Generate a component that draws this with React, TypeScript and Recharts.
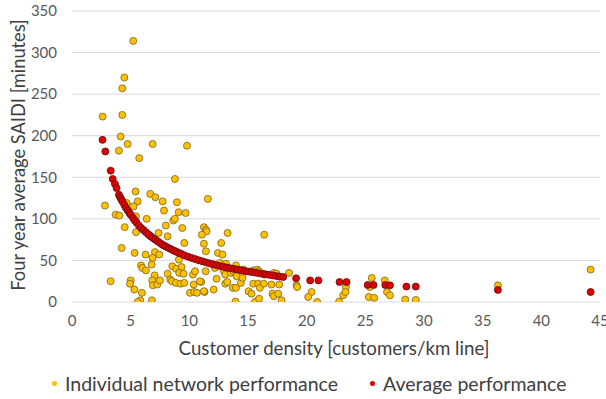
import React from "react";
import {
  ScatterChart,
  Scatter,
  XAxis,
  YAxis,
  CartesianGrid,
  Legend,
} from "recharts";

const seriesNames = ["Individual network performance", "Average performance"];
const xTicks = [0, 5, 10, 15, 20, 25, 30, 35, 40, 45];
const yTicks = [0, 50, 100, 150, 200, 250, 300, 350];
const xTitle = "Customer density [customers/km line]";
const yTitle = "Four year average SAIDI [minutes]";

// Individual network performance: [density, SAIDI]
const individualPoints: [number, number][] = [
  [5.22, 314], [4.46, 270], [4.29, 257], [2.61, 223], [4.29, 225], [4.15, 199],
  [4.74, 190], [4.0, 182], [6.87, 190], [9.8, 188], [5.73, 173], [8.77, 148],
  [2.81, 116], [5.42, 133], [6.67, 130], [7.1, 126], [5.6, 121], [4.66, 119],
  [5.25, 115], [7.72, 121], [8.94, 120], [11.58, 124], [3.72, 105], [4.03, 104],
  [7.84, 110], [9.09, 108], [9.68, 107], [4.49, 90], [6.36, 100], [5.45, 103],
  [8.0, 92], [8.63, 98], [8.77, 100], [9.4, 89], [11.24, 90], [11.41, 87],
  [11.47, 85], [5.45, 84], [6.64, 80], [7.38, 83], [8.15, 79], [11.07, 81],
  [13.26, 83], [16.38, 81], [4.23, 65], [5.34, 59], [6.27, 57], [7.07, 60],
  [7.44, 57], [9.57, 71], [11.24, 70], [11.41, 61], [12.72, 71], [12.44, 59],
  [12.83, 57], [6.87, 53], [9.11, 51], [12.6, 47], [13.12, 46], [13.97, 44],
  [5.88, 44], [5.99, 41], [6.3, 38], [6.79, 45], [8.55, 43], [8.88, 40],
  [9.34, 42], [8.15, 34], [9.14, 35], [9.51, 34], [10.31, 33], [10.48, 37],
  [11.39, 37], [12.18, 41], [12.95, 37], [13.06, 33], [13.54, 35], [13.74, 37],
  [14.6, 39], [15.45, 38], [15.78, 39], [15.95, 37], [16.38, 33], [17.2, 35],
  [17.43, 34], [18.5, 35], [3.29, 25], [5.0, 26], [4.94, 22], [5.31, 15],
  [5.96, 11], [5.82, 2], [5.6, 0], [6.81, 2], [7.04, 32], [6.84, 26],
  [6.9, 20], [7.27, 21], [7.5, 26], [8.37, 27], [8.52, 25], [8.86, 23],
  [9.26, 22], [9.57, 23], [10.05, 11], [10.42, 12], [10.65, 11], [11.3, 12],
  [11.24, 13], [12.07, 15], [11.01, 24], [10.9, 25], [10.37, 21], [12.32, 28],
  [13.06, 22], [13.23, 24], [13.71, 17], [13.97, 17], [13.94, 0.5], [14.03, 31],
  [14.39, 23], [14.54, 29], [15.05, 13], [15.3, 10], [15.45, 22], [15.87, 22],
  [16.01, 17], [16.35, 22], [15.7, 0.5], [15.59, 0], [15.95, 4], [17.0, 21],
  [17.66, 21], [17.09, 10], [17.2, 7], [17.57, 10], [17.86, 2], [19.14, 20],
  [19.19, 18], [20.42, 12], [20.13, 6], [20.9, 0], [23.34, 18], [23.11, 8],
  [23.31, 12], [22.77, 0.5], [25.55, 29], [25.38, 18], [25.3, 6], [25.75, 5],
  [26.66, 26], [26.85, 12], [27.1, 8], [28.4, 3], [29.3, 2.5], [36.3, 20],
  [44.2, 39],
];

// Average performance: [density, SAIDI]
const averagePoints: [number, number][] = [
  [2.6, 195], [2.84, 181], [3.3, 158], [3.47, 148], [3.66, 142], [3.8, 137],
  [4.0, 129], [4.1, 126], [4.2, 123.5], [4.3, 121], [4.45, 117], [4.6, 113],
  [4.75, 110], [4.9, 107], [5.0, 105], [5.2, 101], [5.35, 98], [5.5, 95.5],
  [5.7, 92], [5.9, 89], [6.1, 86.5], [6.3, 84], [6.5, 81.5], [6.7, 79],
  [6.9, 77], [7.1, 75], [7.3, 73], [7.5, 71], [7.7, 69], [7.9, 67.5],
  [8.1, 66], [8.3, 64.5], [8.5, 63], [8.7, 61.7], [8.9, 60.4], [9.1, 59],
  [9.3, 58], [9.6, 56], [9.9, 54.5], [10.2, 53], [10.5, 51.6], [10.8, 50.2],
  [11.1, 49], [11.4, 47.7], [11.7, 46.5], [12.0, 45.4], [12.3, 44.3], [12.6, 43.3],
  [12.9, 42.4], [13.2, 41.5], [13.5, 40.6], [13.8, 39.8], [14.1, 39], [14.4, 38.2],
  [14.7, 37.4], [15.0, 36.7], [15.3, 36], [15.6, 35.4], [15.9, 34.7], [16.2, 34],
  [16.5, 33.3], [16.8, 32.7], [17.1, 32], [17.4, 31.3], [17.7, 30.6], [18.0, 30],
  [19.1, 28.5], [20.3, 26], [21.0, 26], [22.8, 24], [23.4, 24], [25.2, 20.5],
  [25.7, 20.5], [26.7, 20.5], [27.1, 20], [28.5, 18.5], [29.3, 18.5], [36.3, 14.5],
  [44.2, 12],
];

const individualData = individualPoints.map(([x, y]) => ({ x, y }));
const averageData = averagePoints.map(([x, y]) => ({ x, y }));

const FONT = "Lato, 'Open Sans', sans-serif";
const YELLOW = "#FFC000";
const RED = "#E00000";

const yellowDot = (p: any) => (
  <circle cx={p.cx} cy={p.cy} r={3.5} fill={YELLOW} stroke="#7a6320" strokeWidth={0.8} />
);
const redDot = (p: any) => (
  <circle cx={p.cx} cy={p.cy} r={3.5} fill={RED} stroke="#5a1010" strokeWidth={0.8} />
);

const legendColors = [YELLOW, RED];
const legendOffsets = [52, 370];

const renderLegend = () => (
  <div style={{ position: "relative", width: 606, height: 26, fontFamily: FONT }}>
    {seriesNames.map((name, i) => (
      <div
        key={name}
        style={{
          position: "absolute",
          left: legendOffsets[i],
          top: 0,
          height: 26,
          display: "flex",
          alignItems: "center",
          fontSize: 19.5,
          color: "#404040",
          whiteSpace: "nowrap",
        }}
      >
        <span
          style={{
            display: "inline-block",
            width: 5,
            height: 5,
            borderRadius: "50%",
            background: legendColors[i],
            marginRight: 8,
          }}
        />
        {name}
      </div>
    ))}
  </div>
);

export default function App() {
  return (
    <div style={{ position: "absolute", left: 0, top: 0, width: 606, height: 399, background: "#fff" }}>
      <ScatterChart
        width={606}
        height={399}
        margin={{ top: 11, right: 6, bottom: 37, left: 0 }}
      >
        <CartesianGrid vertical={false} stroke="#d9d9d9" strokeWidth={1} />
        <XAxis
          type="number"
          dataKey="x"
          domain={[0, 45]}
          ticks={xTicks}
          interval={0}
          axisLine={false}
          tickLine={false}
          tickSize={0}
          tickMargin={13}
          height={60}
          allowDataOverflow
          tick={{ fill: "#595959", fontSize: 15, fontFamily: FONT }}
          label={{
            content: () => (
              <text
                x={334}
                y={348}
                textAnchor="middle"
                dominantBaseline="central"
                fill="#404040"
                fontSize={18.7}
                fontFamily={FONT}
              >
                {xTitle}
              </text>
            ),
          }}
        />
        <YAxis
          type="number"
          dataKey="y"
          domain={[0, 350]}
          ticks={yTicks}
          interval={0}
          axisLine={false}
          tickLine={false}
          tickSize={0}
          tickMargin={15}
          width={72}
          allowDataOverflow
          tick={{ fill: "#595959", fontSize: 15, fontFamily: FONT }}
          label={{
            content: () => (
              <text
                x={18}
                y={155}
                transform="rotate(-90 18 155)"
                textAnchor="middle"
                dominantBaseline="central"
                fill="#404040"
                fontSize={18.3}
                fontFamily={FONT}
              >
                {yTitle}
              </text>
            ),
          }}
        />
        <Legend
          verticalAlign="middle"
          align="center"
          layout="horizontal"
          content={renderLegend}
          wrapperStyle={{ position: "absolute", left: 0, top: 370, width: 606, height: 26 }}
        />
        <Scatter
          name={seriesNames[0]}
          data={individualData}
          shape={yellowDot}
          fill={YELLOW}
          isAnimationActive={false}
        />
        <Scatter
          name={seriesNames[1]}
          data={averageData}
          shape={redDot}
          fill={RED}
          isAnimationActive={false}
        />
      </ScatterChart>
    </div>
  );
}
